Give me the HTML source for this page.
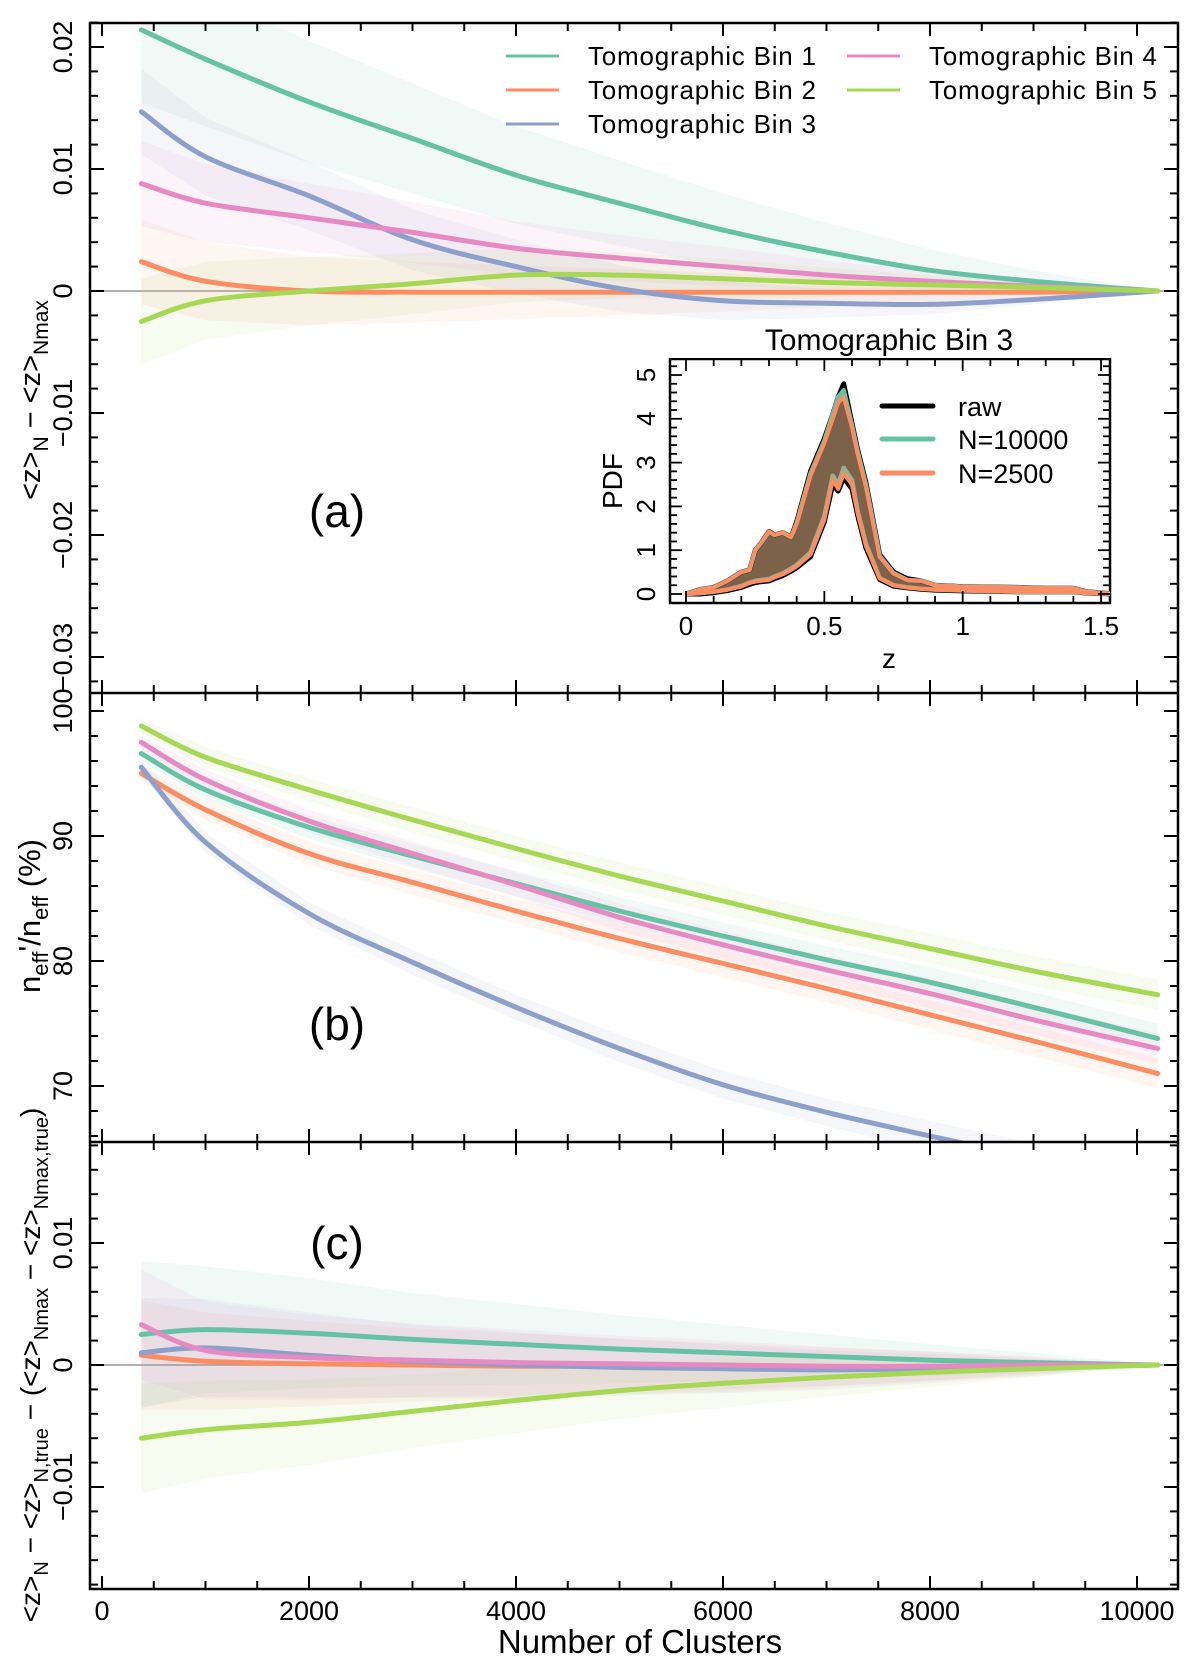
<!DOCTYPE html>
<html><head><meta charset="utf-8">
<style>
html,body{margin:0;padding:0;background:#fff;}
svg{display:block;font-family:"Liberation Sans",sans-serif;}
</style></head>
<body>
<svg id="fig" width="1200" height="1680" viewBox="0 0 1200 1680" xmlns="http://www.w3.org/2000/svg">
<defs>
<clipPath id="clipA"><rect x="90" y="23" width="1088" height="670"/></clipPath>
<clipPath id="clipB"><rect x="90" y="693" width="1088" height="449"/></clipPath>
<clipPath id="clipC"><rect x="90" y="1142" width="1088" height="447"/></clipPath>
<clipPath id="clipI"><rect x="670" y="359" width="440" height="244"/></clipPath>
</defs>
<g id="bands"></g>
<g id="marks"></g>
<g id="axes"></g>
<g id="inset"></g>
<g id="texts">
  <text x="337" y="527" font-size="46" text-anchor="middle">(a)</text>
  <text x="337" y="1040" font-size="46" text-anchor="middle">(b)</text>
  <text x="337" y="1259" font-size="46" text-anchor="middle">(c)</text>
  <text x="640" y="1653" font-size="33" text-anchor="middle">Number of Clusters</text>
  <text transform="translate(40,400) rotate(-90)" font-size="29" text-anchor="middle">&lt;z&gt;<tspan font-size="21" dy="8">N</tspan><tspan dy="-8"> − &lt;z&gt;</tspan><tspan font-size="21" dy="8">Nmax</tspan></text>
  <text transform="translate(40,916) rotate(-90)" font-size="31" text-anchor="middle">n<tspan font-size="22" dy="8">eff</tspan><tspan dy="-8">'/n</tspan><tspan font-size="22" dy="8">eff</tspan><tspan dy="-8"> (%)</tspan></text>
  <text transform="translate(40,1365) rotate(-90)" font-size="28" text-anchor="middle">&lt;z&gt;<tspan font-size="20" dy="8">N</tspan><tspan dy="-8"> − &lt;z&gt;</tspan><tspan font-size="20" dy="8">N,true</tspan><tspan dy="-8"> − (&lt;z&gt;</tspan><tspan font-size="20" dy="8">Nmax</tspan><tspan dy="-8"> − &lt;z&gt;</tspan><tspan font-size="20" dy="8">Nmax,true</tspan><tspan dy="-8">)</tspan></text>
</g>
<g id="legend"></g>
</svg>
<script>
// ---------------- data ----------------
const nGrid = [380,1000,2000,3000,4000,5000,6000,7000,8000,9000,10200];
const binNames = ["Tomographic Bin 1","Tomographic Bin 2","Tomographic Bin 3","Tomographic Bin 4","Tomographic Bin 5"];
const binColors = ["#66c2a5","#fc8d62","#8da0cb","#e78ac3","#a6d854"];
// panel (a): <z>N - <z>Nmax
const aBin1 = [0.0214,0.019,0.0155,0.0125,0.0095,0.0072,0.0050,0.0032,0.0017,0.0008,0];
const aBin2 = [0.0024,0.0008,0.0,-0.0001,-0.0001,-0.0001,-0.0001,-0.0001,-0.0001,-0.0001,0];
const aBin3 = [0.0147,0.011,0.0078,0.0042,0.0020,0.0002,-0.0008,-0.0010,-0.0011,-0.0007,0];
const aBin4 = [0.0088,0.0072,0.0060,0.0048,0.0035,0.0027,0.0020,0.0013,0.0008,0.0004,0];
const aBin5 = [-0.0025,-0.0008,0.0,0.0006,0.0013,0.0013,0.0010,0.0007,0.0005,0.0003,0];
const aSpread1 = [0.006,0.0055,0.005,0.0045,0.004,0.0035,0.003,0.0024,0.0017,0.0009,0];
const aSpread = [0.0035,0.0032,0.0028,0.0025,0.0022,0.0019,0.0016,0.0012,0.0008,0.0004,0];
// panel (b): neff'/neff (%)
const bBin1 = [96.6,93.7,90.7,88.4,86.2,84.0,82.0,80.1,78.3,76.3,73.8];
const bBin2 = [95.0,92.1,88.6,86.3,84.0,81.8,79.8,77.8,75.7,73.6,71.0];
const bBin3 = [95.5,89.5,83.8,79.9,76.3,73.0,70.1,67.9,66.0,64.2,62.0];
const bBin4 = [97.5,94.5,91.2,88.6,86.1,83.5,81.3,79.3,77.4,75.3,73.0];
const bBin5 = [98.8,96.3,93.7,91.3,89.0,86.8,84.8,82.8,81.0,79.2,77.3];
const bSpread = [0.6,0.8,0.9,1.0,1.0,1.1,1.1,1.1,1.2,1.2,1.2];
// panel (c)
const cBin1 = [0.0025,0.0029,0.0026,0.0021,0.0017,0.0013,0.0010,0.0007,0.0004,0.0002,0];
const cBin2 = [0.0008,0.0003,0.0001,0.0,-0.0001,-0.0001,-0.0002,-0.0002,-0.0001,-0.0001,0];
const cBin3 = [0.0010,0.0014,0.0008,0.0003,0.0,-0.0002,-0.0003,-0.0004,-0.0003,-0.0002,0];
const cBin4 = [0.0033,0.0012,0.0006,0.0004,0.0002,0.0001,0.0,-0.0001,-0.0001,0,0];
const cBin5 = [-0.0060,-0.0053,-0.0047,-0.0038,-0.0029,-0.0021,-0.0015,-0.0010,-0.0006,-0.0003,0];
const cSpread1 = [0.006,0.0052,0.0045,0.0038,0.0033,0.0028,0.0023,0.0018,0.0013,0.0008,0];
const cSpread = [0.0045,0.004,0.0035,0.003,0.0027,0.0023,0.002,0.0016,0.0012,0.0007,0];
// inset PDF
const zVals = [0,0.05,0.1,0.15,0.2,0.23,0.25,0.27,0.3,0.32,0.35,0.38,0.4,0.45,0.5,0.53,0.55,0.57,0.6,0.62,0.65,0.7,0.75,0.8,0.85,0.9,1.0,1.2,1.3,1.4,1.45,1.55];
const pdfUpper2500 = [0,0.1,0.15,0.3,0.5,0.55,1.0,1.15,1.43,1.35,1.4,1.3,1.6,2.7,3.45,4.0,4.37,4.5,3.8,3.2,2.45,0.85,0.47,0.32,0.3,0.2,0.17,0.15,0.13,0.13,0.05,0];
const pdfLower2500 = [0,0.02,0.05,0.1,0.17,0.25,0.28,0.3,0.32,0.38,0.45,0.55,0.63,0.9,1.7,2.6,2.4,2.75,2.5,1.85,1.1,0.36,0.2,0.15,0.12,0.1,0.08,0.05,0.05,0.05,0.02,0];
const pdfUpper10000 = [0,0.1,0.15,0.3,0.5,0.55,1.0,1.15,1.42,1.35,1.4,1.3,1.62,2.75,3.5,4.1,4.5,4.65,3.85,3.25,2.5,0.87,0.48,0.32,0.3,0.2,0.17,0.15,0.13,0.13,0.05,0];
const pdfLower10000 = [0,0.02,0.05,0.1,0.18,0.26,0.3,0.32,0.34,0.4,0.47,0.58,0.66,0.95,1.78,2.7,2.5,2.88,2.6,1.9,1.15,0.36,0.2,0.15,0.12,0.1,0.08,0.05,0.05,0.05,0.02,0];
const pdfRawUpper = [0,0.1,0.15,0.3,0.5,0.55,1.0,1.15,1.43,1.35,1.4,1.3,1.65,2.8,3.55,4.1,4.5,4.8,3.9,3.3,2.55,0.9,0.5,0.35,0.3,0.2,0.17,0.15,0.13,0.13,0.05,0];
const pdfRawLower = [0,0.0,0.03,0.08,0.15,0.22,0.26,0.28,0.3,0.35,0.42,0.52,0.6,0.85,1.65,2.5,2.35,2.65,2.4,1.8,1.05,0.33,0.18,0.14,0.11,0.09,0.07,0.05,0.05,0.05,0.02,0];

// ---------------- scales ----------------
const X0 = 90, X1 = 1178;
const xN = n => 102 + n*0.1035;
const yA = v => 291 - v*12200;
const yB = v => 711 + (100 - v)*12.5;
const yC = v => 1365 - v*12200;
const xZ = z => 686 + z*276.7;
const yP = v => 594 - v*43.8;

const NS = "http://www.w3.org/2000/svg";
function mk(tag, parent){ const e = document.createElementNS(NS, tag); parent.appendChild(e); return e; }
const gB = document.getElementById('bands'), gM = document.getElementById('marks'),
      gAx = document.getElementById('axes'), gI = document.getElementById('inset'), gL = document.getElementById('legend');

function pathFrom(xs, ys, fx, fy){ return xs.map((x,i)=>(i?'L':'M')+fx(x).toFixed(1)+' '+fy(ys[i]).toFixed(1)).join(' '); }
function smoothPath(xs, ys, fx, fy){
  const P = xs.map((x,i)=>[fx(x), fy(ys[i])]);
  let d = 'M'+P[0][0].toFixed(1)+' '+P[0][1].toFixed(1);
  for(let i=0;i<P.length-1;i++){
    const p0 = P[Math.max(0,i-1)], p1 = P[i], p2 = P[i+1], p3 = P[Math.min(P.length-1,i+2)];
    const c1 = [p1[0]+(p2[0]-p0[0])/6, p1[1]+(p2[1]-p0[1])/6];
    const c2 = [p2[0]-(p3[0]-p1[0])/6, p2[1]-(p3[1]-p1[1])/6];
    d += ' C'+c1[0].toFixed(1)+' '+c1[1].toFixed(1)+' '+c2[0].toFixed(1)+' '+c2[1].toFixed(1)+' '+p2[0].toFixed(1)+' '+p2[1].toFixed(1);
  }
  return d;
}

function drawPanel(series, spreads, fy, clip, panelName){
  series.forEach((s,k)=>{
    const sp = spreads[k];
    const up = nGrid.map((n,i)=>xN(n).toFixed(1)+','+fy(s[i]+sp[i]).toFixed(1));
    const lo = nGrid.map((n,i)=>xN(n).toFixed(1)+','+fy(s[i]-sp[i]).toFixed(1)).reverse();
    const p = mk('polygon', gB);
    p.setAttribute('points', up.concat(lo).join(' '));
    p.setAttribute('fill', binColors[k]); p.setAttribute('fill-opacity','0.09');
    p.setAttribute('clip-path','url(#'+clip+')');
    
    
  });
  series.forEach((s,k)=>{
    const p = mk('path', gM);
    p.setAttribute('d', smoothPath(nGrid, s, xN, fy));
    p.setAttribute('fill','none'); p.setAttribute('stroke', binColors[k]);
    p.setAttribute('stroke-width','5'); p.setAttribute('stroke-linejoin','round'); p.setAttribute('stroke-linecap','round');
    p.setAttribute('clip-path','url(#'+clip+')');
    
    
  });
}
[[291,'zero-line-a'],[1365,'zero-line-c']].forEach(([y,nm])=>{
  const l = mk('line', gB); l.setAttribute('x1',X0); l.setAttribute('x2',X1); l.setAttribute('y1',y); l.setAttribute('y2',y);
  l.setAttribute('stroke','#999'); l.setAttribute('stroke-width','1.5');
  
  
});
drawPanel([aBin1,aBin2,aBin3,aBin4,aBin5],[aSpread1,aSpread,aSpread,aSpread,aSpread], yA, 'clipA', 'panel-a');
drawPanel([bBin1,bBin2,bBin3,bBin4,bBin5],[bSpread,bSpread,bSpread,bSpread,bSpread], yB, 'clipB', 'panel-b');
drawPanel([cBin1,cBin2,cBin3,cBin4,cBin5],[cSpread1,cSpread,cSpread,cSpread,cSpread], yC, 'clipC', 'panel-c');

// ---------------- axes ----------------
function line(p, x1,y1,x2,y2,w,nm){ const l = mk('line', p); l.setAttribute('x1',x1); l.setAttribute('y1',y1); l.setAttribute('x2',x2); l.setAttribute('y2',y2); l.setAttribute('stroke','#000'); l.setAttribute('stroke-width',w||2);
  
   return l; }
const frame = mk('rect', gAx); frame.setAttribute('x',X0); frame.setAttribute('y',23); frame.setAttribute('width',X1-X0); frame.setAttribute('height',1589-23);
frame.setAttribute('fill','none'); frame.setAttribute('stroke','#000'); frame.setAttribute('stroke-width','2.5');


line(gAx, X0,693,X1,693,2.5,'panel-divider-ab');
line(gAx, X0,1142,X1,1142,2.5,'panel-divider-bc');
const xTicksMajor = [0,2000,4000,6000,8000,10000];
const xTickLabels = ["0","2000","4000","6000","8000","10000"];
for(let n=0;n<=10000;n+=500){
  const x = xN(n), maj = n%2000===0, L = maj?13:8;
  [23,693,1142].forEach(y=>line(gAx,x,y,x,y+L,2));
  [693,1142,1589].forEach(y=>line(gAx,x,y,x,y-L,2));
}
xTicksMajor.forEach((n,i)=>{
  const t = mk('text', gAx); t.setAttribute('x', xN(n)); t.setAttribute('y', 1620); t.setAttribute('font-size','27'); t.setAttribute('text-anchor','middle');
  t.textContent = xTickLabels[i];
  
  
});
function yAxis(fy, lo, hi, step, majEvery, labels, labelVals, ylo, yhi){
  for(let k=Math.round(lo/step); k*step<=hi+1e-9; k++){
    const v = k*step, y = fy(v);
    if(y<ylo-0.5||y>yhi+0.5) continue;
    const maj = Math.abs(v/majEvery - Math.round(v/majEvery))<1e-6, L = maj?14:8;
    line(gAx,X0,y,X0+L,y,2); line(gAx,X1,y,X1-L,y,2);
  }
  labelVals.forEach((v,i)=>{
    const t = mk('text', gAx); t.setAttribute('transform','translate(72,'+fy(v)+') rotate(-90)');
    t.setAttribute('font-size','27'); t.setAttribute('text-anchor','middle'); t.textContent = labels[i];
    
    
  });
}
const aTickVals = [0.02,0.01,0,-0.01,-0.02,-0.03];
const aTickLabels = ["0.02","0.01","0","−0.01","−0.02","−0.03"];
const bTickVals = [100,90,80,70];
const bTickLabels = ["100","90","80","70"];
const cTickVals = [0.01,0,-0.01];
const cTickLabels = ["0.01","0","−0.01"];
yAxis(yA,-0.034,0.022,0.002,0.01,aTickLabels,aTickVals,23,693);
yAxis(yB,64,102,2,10,bTickLabels,bTickVals,693,1142);
yAxis(yC,-0.018,0.018,0.002,0.01,cTickLabels,cTickVals,1142,1589);

// ---------------- legend ----------------
const legPos = [[506,56],[506,90],[506,124],[847,56],[847,90]];
binNames.forEach((nm,k)=>{
  const [x,y] = legPos[k];
  const l = mk('line', gL); l.setAttribute('x1',x); l.setAttribute('x2',x+53); l.setAttribute('y1',y); l.setAttribute('y2',y);
  l.setAttribute('stroke',binColors[k]); l.setAttribute('stroke-width','3');
  
  
  const t = mk('text', gL); t.setAttribute('x',x+82); t.setAttribute('y',y+9); t.setAttribute('font-size','26'); t.textContent = nm;
  t.setAttribute('textLength','228');
  
  
});

// ---------------- inset ----------------
const ib = mk('rect', gI); ib.setAttribute('x',670); ib.setAttribute('y',359); ib.setAttribute('width',440); ib.setAttribute('height',244);
ib.setAttribute('fill','#fff'); ib.setAttribute('stroke','#000'); ib.setAttribute('stroke-width','2.5');


const it = mk('rect', gI); it.setAttribute('x',600); it.setAttribute('y',322); it.setAttribute('width',540); it.setAttribute('height',36); it.setAttribute('fill','#fff');


const gIc = mk('g', gI); gIc.setAttribute('clip-path','url(#clipI)');


const fill = mk('polygon', gIc);
fill.setAttribute('points', zVals.map((z,i)=>xZ(z).toFixed(1)+','+yP(pdfUpper2500[i]).toFixed(1)).concat(zVals.map((z,i)=>xZ(z).toFixed(1)+','+yP(pdfLower2500[i]).toFixed(1)).reverse()).join(' '));
fill.setAttribute('fill','#7b6249');


[[pdfRawUpper,'#000',5,'raw-upper'],[pdfRawLower,'#000',5,'raw-lower'],[pdfUpper10000,'#66c2a5',4.5,'n10000-upper'],[pdfLower10000,'#9bb08f',4.5,'n10000-lower'],[pdfUpper2500,'#fc8d62',4,'n2500-upper'],[pdfLower2500,'#fc8d62',4,'n2500-lower']].forEach(([arr,c,w,nm])=>{
  const p = mk('path', gIc); p.setAttribute('d', pathFrom(zVals, arr, xZ, yP));
  p.setAttribute('fill','none'); p.setAttribute('stroke',c); p.setAttribute('stroke-width',w); p.setAttribute('stroke-linejoin','round');
  
  
});
for(let k=0;k<=15;k++){ const z=k*0.1, x=xZ(z), L=(k%5===0)?12:7;
  line(gI,x,603,x,603-L,1.8); line(gI,x,359,x,359+L,1.8); }
for(let k=0;k<=26;k++){ const v=k*0.2, y=yP(v); if(y<359) continue; const L=(k%5===0)?12:7;
  line(gI,670,y,670+L,y,1.8); line(gI,1110,y,1110-L,y,1.8); }
const insetXVals = [0,0.5,1,1.5], insetXLabels = ["0","0.5","1","1.5"];
insetXVals.forEach((z,i)=>{ const t = mk('text', gI); t.setAttribute('x',xZ(z)); t.setAttribute('y',635); t.setAttribute('font-size','26'); t.setAttribute('text-anchor','middle'); t.textContent=insetXLabels[i];
  
   });
const insetYVals = [0,1,2,3,4,5];
insetYVals.forEach(v=>{ const t = mk('text', gI); t.setAttribute('transform','translate(655,'+yP(v)+') rotate(-90)'); t.setAttribute('font-size','26'); t.setAttribute('text-anchor','middle'); t.textContent=String(v);
  
   });
function txt(p,x,y,s,str,nm,anchor,tr){ const t=mk('text',p); if(tr) t.setAttribute('transform',tr); else { t.setAttribute('x',x); t.setAttribute('y',y);} t.setAttribute('font-size',s); t.setAttribute('text-anchor',anchor||'start'); t.textContent=str;
  
   return t; }
txt(gI,889,350,30,'Tomographic Bin 3','inset-title','middle');
txt(gI,0,0,28,'PDF','inset-y-axis-title','middle','translate(622,481) rotate(-90)');
txt(gI,889,668,28,'z','inset-x-axis-title','middle');
const insetLegNames = ["raw","N=10000","N=2500"], insetLegColors = ["#000","#66c2a5","#fc8d62"], insetLegY = [406,439,473];
insetLegNames.forEach((nm,i)=>{
  const l = mk('line', gI); l.setAttribute('x1',882); l.setAttribute('x2',933); l.setAttribute('y1',insetLegY[i]); l.setAttribute('y2',insetLegY[i]);
  l.setAttribute('stroke',insetLegColors[i]); l.setAttribute('stroke-width','5'); l.setAttribute('stroke-linecap','round');
  
  
  txt(gI,958,insetLegY[i]+10,27,nm,'inset-legend-entry');
});
</script>
</body></html>
